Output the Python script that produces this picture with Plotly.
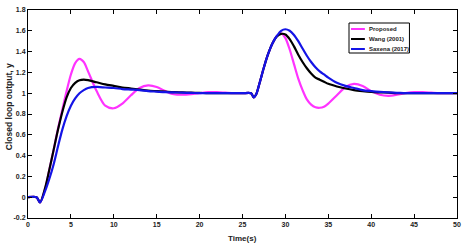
import plotly.graph_objects as go

t = [0, 1, 1.4, 2, 2.5, 3, 3.5, 4, 4.5, 5, 5.5, 6, 6.5, 7, 8, 9, 10, 11, 12, 13, 14, 15, 16, 17,
     18, 19, 20, 21, 22, 23, 24, 25, 26, 26.3, 26.6, 27, 27.5, 28, 28.5, 29, 29.5, 30, 30.5, 31,
     31.5, 32, 32.5, 33, 33.5, 34, 34.5, 35, 36, 37, 38, 39, 40, 41, 42, 43, 44, 45, 46, 47, 48, 50]

proposed = [0, 0, -0.05, 0.08, 0.27, 0.46, 0.66, 0.84, 1.02, 1.18, 1.29, 1.33, 1.30, 1.21, 1.02,
            0.88, 0.855, 0.90, 0.98, 1.05, 1.075, 1.06, 1.02, 0.99, 0.985, 0.99, 1.0, 1.01, 1.01,
            1.005, 1.0, 1.0, 1.0, 0.96, 0.99, 1.10, 1.25, 1.38, 1.48, 1.55, 1.575, 1.53, 1.42, 1.28,
            1.14, 1.03, 0.94, 0.89, 0.865, 0.86, 0.87, 0.90, 0.98, 1.06, 1.09, 1.07, 1.02, 0.985,
            0.975, 0.985, 1.0, 1.01, 1.01, 1.005, 1.0, 1.0]

wang = [0, 0, -0.05, 0.09, 0.27, 0.46, 0.65, 0.82, 0.96, 1.05, 1.10, 1.125, 1.13, 1.125, 1.105,
        1.085, 1.07, 1.055, 1.045, 1.035, 1.025, 1.02, 1.015, 1.01, 1.008, 1.005, 1.003, 1.0, 1.0,
        1.0, 1.0, 1.0, 1.0, 0.96, 0.99, 1.10, 1.25, 1.38, 1.48, 1.545, 1.57, 1.565, 1.52, 1.45,
        1.37, 1.30, 1.24, 1.19, 1.15, 1.13, 1.11, 1.09, 1.065, 1.045, 1.03, 1.02, 1.012, 1.008,
        1.005, 1.0, 1.0, 1.0, 1.0, 1.0, 1.0, 1.0]

saxena = [0, 0, -0.05, 0.06, 0.18, 0.32, 0.49, 0.65, 0.78, 0.88, 0.95, 1.0, 1.03, 1.05, 1.06,
          1.055, 1.05, 1.04, 1.035, 1.03, 1.02, 1.015, 1.01, 1.008, 1.005, 1.003, 1.0, 1.0, 1.0,
          1.0, 1.0, 1.0, 1.0, 0.96, 0.99, 1.10, 1.25, 1.38, 1.48, 1.55, 1.60, 1.615, 1.60, 1.56,
          1.50, 1.43, 1.36, 1.30, 1.25, 1.21, 1.18, 1.15, 1.10, 1.07, 1.05, 1.03, 1.02, 1.012,
          1.007, 1.004, 1.0, 1.0, 1.0, 1.0, 1.0, 1.0]

names = ["Proposed", "Wang (2001)", "Saxena (2017)"]
colors = ["#ff33ff", "#000000", "#1414e6"]

x_ticks = [0, 5, 10, 15, 20, 25, 30, 35, 40, 45, 50]
y_ticks = [-0.2, 0, 0.2, 0.4, 0.6, 0.8, 1, 1.2, 1.4, 1.6, 1.8]
y_labels = ["-0.2", "0", "0.2", "0.4", "0.6", "0.8", "1", "1.2", "1.4", "1.6", "1.8"]

W, H = 467, 245
L, R, T, B = 28, 6, 10, 27
pw, ph = W - L - R, H - T - B

fig = go.Figure()
for name, ys, c in zip(names, [proposed, wang, saxena], colors):
    fig.add_trace(go.Scatter(x=t, y=ys, name=name, mode="lines", showlegend=False,
                             line=dict(color=c, width=2.2, shape="spline", smoothing=0.8)))

FAM = "Liberation Sans, Arial"
font = dict(family=FAM, size=7, color="#222", weight="bold")
axis_common = dict(showgrid=False, zeroline=False, showline=True, linecolor="black", linewidth=1,
                   mirror="ticks", ticks="inside", ticklen=4, tickcolor="black", tickfont=font,
                   ticklabeloverflow="allow")

def px_x(p):
    return (p - L) / pw

def px_y(p):
    return 1 - (p - T) / ph

shapes = [dict(type="rect", xref="paper", yref="paper", x0=px_x(352), x1=px_x(413),
               y0=px_y(53), y1=px_y(23), line=dict(color="black", width=1), fillcolor="white",
               layer="above")]
annotations = []
for i, (name, c) in enumerate(zip(names, colors)):
    yc = 29 + i * 10
    shapes.append(dict(type="line", xref="paper", yref="paper", x0=px_x(354), x1=px_x(368),
                       y0=px_y(yc), y1=px_y(yc), line=dict(color=c, width=2), layer="above"))
    annotations.append(dict(x=px_x(370), y=px_y(yc), xref="paper", yref="paper", text=name,
                            showarrow=False, xanchor="left", yanchor="middle",
                            font=dict(family=FAM, size=6, color="#222", weight="bold")))

annotations.append(dict(x=0.5, y=-(238 - T - ph) / ph, xref="paper", yref="paper",
                        text="Time(s)", showarrow=False, xanchor="center", yanchor="middle",
                        font=dict(family=FAM, size=8, color="#222", weight="bold")))
annotations.append(dict(x=-(L - 9) / pw, y=px_y(107), xref="paper", yref="paper",
                        text="Closed loop output, y", showarrow=False, textangle=-90,
                        xanchor="center", yanchor="middle",
                        font=dict(family=FAM, size=8.5, color="#222", weight="bold")))

fig.update_layout(
    width=W, height=H,
    margin=dict(l=L, r=R, t=T, b=B),
    paper_bgcolor="white", plot_bgcolor="white",
    showlegend=False,
    shapes=shapes, annotations=annotations,
    xaxis=dict(range=[0, 50], tickvals=x_ticks, ticktext=[str(v) for v in x_ticks], **axis_common),
    yaxis=dict(range=[-0.2, 1.8], tickvals=y_ticks, ticktext=y_labels, **axis_common),
)

fig.write_html("out.html", config={"displayModeBar": False},
               post_script="document.body.style.margin='0';document.body.style.overflow='hidden';")
